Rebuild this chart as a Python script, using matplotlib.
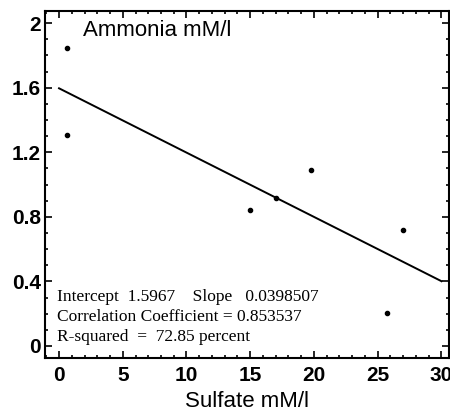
import numpy as np
import matplotlib
matplotlib.use("Agg")
import matplotlib.pyplot as plt
from matplotlib.ticker import MultipleLocator

# data
sulfate = [0.6, 0.6, 15.0, 17.0, 19.8, 25.7, 27.0]
ammonia = [1.845, 1.31, 0.84, 0.915, 1.09, 0.205, 0.72]
intercept = 1.5967
slope = -0.0398507
fit_x = [0, 30]

stats_lines = ["Intercept  1.5967    Slope   0.0398507",
               "Correlation Coefficient = 0.853537",
               "R-squared  =  72.85 percent"]

fig = plt.figure(figsize=(4.5, 4.12), dpi=100)
ax = fig.add_axes([0.1, 0.131, 0.898, 0.842])

ax.scatter(sulfate, ammonia, s=9, color='k', zorder=3)
fx = np.array(fit_x)
ax.plot(fx, intercept + slope * fx, color='k', lw=1.4)

ax.set_xlim(-1.1, 30.6)
ax.set_ylim(-0.075, 2.075)
ax.xaxis.set_major_locator(MultipleLocator(5))
ax.xaxis.set_minor_locator(MultipleLocator(1))
ax.yaxis.set_major_locator(MultipleLocator(0.4))
ax.yaxis.set_minor_locator(MultipleLocator(0.1))
ax.set_yticks([0, 0.4, 0.8, 1.2, 1.6, 2.0])
ax.set_yticklabels(['0', '0.4', '0.8', '1.2', '1.6', '2'])

ax.tick_params(which='both', direction='in', top=True, right=True,
               labelsize=15, width=1.2)
ax.tick_params(which='major', length=5)
ax.tick_params(which='minor', length=2.5)
ax.tick_params(axis='x', pad=6)
ax.tick_params(axis='y', pad=3)
for lab in ax.get_xticklabels() + ax.get_yticklabels():
    lab.set_fontfamily('Liberation Sans')
    lab.set_fontweight('bold')
for sp in ax.spines.values():
    sp.set_linewidth(1.5)

ax.set_xlabel('Sulfate mM/l', fontsize=16, family='Liberation Sans', labelpad=4)
ax.text(0.095, 0.945, 'Ammonia mM/l', transform=ax.transAxes, fontsize=16,
        family='Liberation Sans', va='center', ha='left')

for i, s in enumerate(stats_lines):
    ax.text(0.03, 0.176 - i * 0.058, s, transform=ax.transAxes, fontsize=12.5,
            family='Liberation Serif', va='center', ha='left')

fig.savefig('out.png', dpi=100)
